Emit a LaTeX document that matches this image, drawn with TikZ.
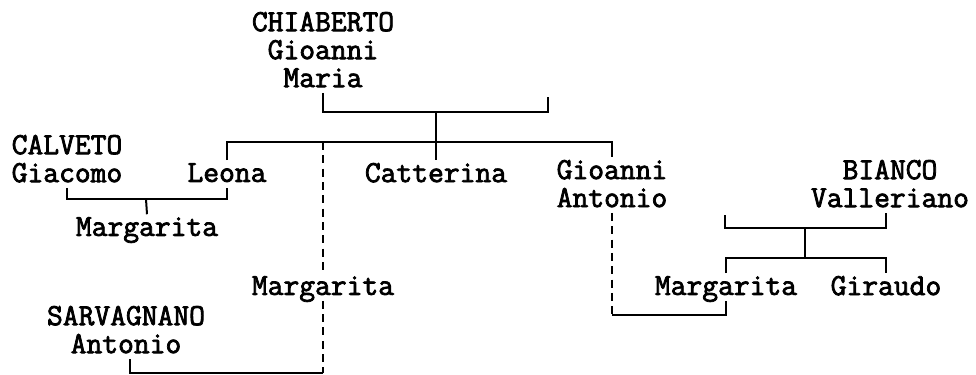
\documentclass[tikz,border=0pt]{standalone}
\usepackage{fontspec}
\newfontfamily\treefont{Latin Modern Mono}[FakeBold=2.5]
\definecolor{ink}{HTML}{000000}
\definecolor{paper}{HTML}{FFFFFF}

\begin{document}
\begin{tikzpicture}[x=.75pt,y=-.75pt,
    person/.style={text=ink,font=\treefont\fontsize{23}{21}\selectfont,align=center,
      text depth=.22em,inner sep=2pt},
    link/.style={ink,line width=1.5pt},
    natural/.style={ink,line width=1.5pt,dash pattern=on 6pt off 4pt}]
  \path[fill=paper] (0,0) rectangle (976,375);

  % People, row by row.
  \node[person] (chiaberto) at (323,51) {CHIABERTO\\Gioanni\\Maria};
  \node[person] (calveto) at (67,160) {CALVETO\\Giacomo};
  \node[person] (leona) at (227,174) {Leona};
  \node[person] (catterina) at (436,174) {Catterina};
  \node[person] (gioantonio) at (612,185) {Gioanni\\Antonio};
  \node[person] (bianco) at (890,185) {BIANCO\\Valleriano};
  \node[person] (margcalveto) at (147,228) {Margarita};
  \node[person] (margleona) at (323,287) {Margarita};
  \node[person] (margbianco) at (726,287) {Margarita};
  \node[person] (giraudo) at (886,287) {Giraudo};
  \node[person] (sarvagnano) at (126,331) {SARVAGNANO\\Antonio};

  % Free ends and joints of the brackets.
  \coordinate (chiabspouse) at (548,97);
  \coordinate (chiabfam) at (436,112);
  \coordinate (chiabkids) at (436,142);
  \coordinate (calvfam) at (146,199);
  \coordinate (biancospouse) at (725,215);
  \coordinate (biancofam) at (805,228);
  \coordinate (biancokids) at (805,258);
  \coordinate (sarvfam) at (323,373);
  \coordinate (gioantfam) at (612,315);

  % Chiaberto and his children.
  \draw[link] (chiaberto.south) |- (chiabfam) -| (chiabspouse);
  \draw[link] (chiabfam) -- (catterina.north);
  \draw[link] (leona.north) |- (chiabkids) -| (gioantonio.north);
  \draw[natural] (chiabkids -| margleona) -- (margleona.north);

  % Calveto and Leona.
  \draw[link] (calveto.south) |- (calvfam) -| (leona.south);
  \draw[link] (calvfam) -- (margcalveto.north);

  % Sarvagnano.
  \draw[natural] (margleona.south) -- (sarvfam);
  \draw[link] (sarvfam) -| ([xshift=3pt]sarvagnano.south);

  % Bianco and his children.
  \draw[link] (biancospouse) |- (biancofam) -| (bianco.south -| giraudo);
  \draw[link] (biancofam) -- (biancokids);
  \draw[link] (margbianco.north) |- (biancokids) -| (giraudo.north);

  % Gioanni Antonio.
  \draw[natural] (gioantonio.south) -- (gioantfam);
  \draw[link] (gioantfam) -| (margbianco.south);
\end{tikzpicture}
\end{document}
